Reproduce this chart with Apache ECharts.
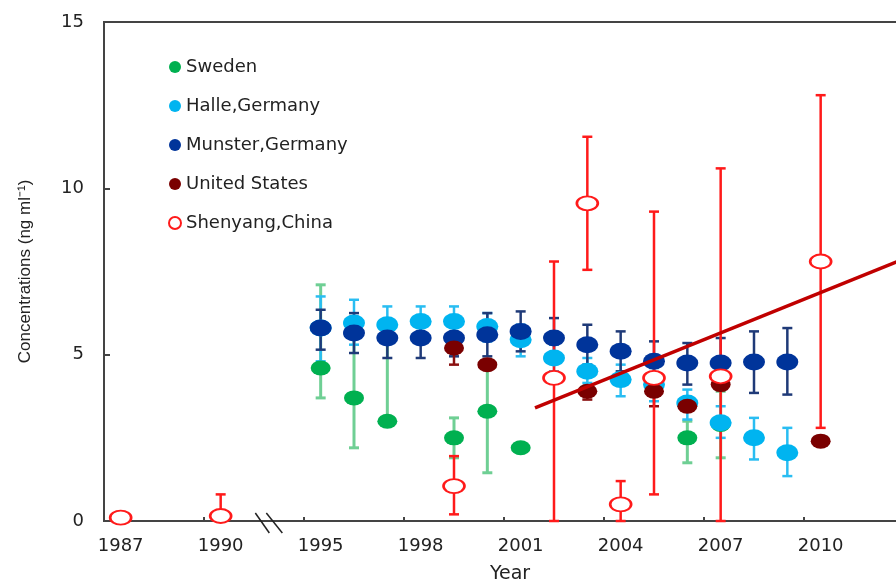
<!DOCTYPE html>
<html>
<head>
<meta charset="utf-8">
<script src="https://cdn.jsdelivr.net/npm/echarts@6/dist/echarts.min.js"></script>
<style>
html, body { margin: 0; padding: 0; background: #fff; }
#chart { width: 896px; height: 580px; }
</style>
</head>
<body>
<div id="chart"></div>
<script>
// values (ng/ml), low/high = ends of the error bars, null = no bar
const sweYears = [1995, 1996, 1997, 1999, 2000, 2001, 2006, 2007]
const sweVals  = [4.6, 3.7, 3.0, 2.5, 3.3, 2.2, 2.5, 2.9]
const sweLow   = [3.7, 2.2, null, 1.9, 1.45, null, 1.75, 1.9]
const sweHigh  = [7.1, 5.5, 5.4, 3.1, 4.7, null, 3.0, 3.9]

const halYears = [1995, 1996, 1997, 1998, 1999, 2000, 2001, 2002, 2003, 2004, 2005, 2006, 2007, 2008, 2009]
const halVals  = [5.8, 5.95, 5.9, 6.0, 6.0, 5.85, 5.45, 4.9, 4.5, 4.25, 4.1, 3.55, 2.95, 2.5, 2.05]
const halLow   = [4.8, 5.3, 5.4, 5.5, 5.5, 5.4, 4.95, 4.5, 4.15, 3.75, 3.6, 3.05, 2.5, 1.85, 1.35]
const halHigh  = [6.75, 6.65, 6.45, 6.45, 6.45, 6.25, 5.9, 5.3, 4.9, 4.7, 4.6, 3.95, 3.45, 3.1, 2.8]

const munYears = [1995, 1996, 1997, 1998, 1999, 2000, 2001, 2002, 2003, 2004, 2005, 2006, 2007, 2008, 2009]
const munVals  = [5.8, 5.65, 5.5, 5.5, 5.5, 5.6, 5.7, 5.5, 5.3, 5.1, 4.8, 4.75, 4.75, 4.78, 4.78]
const munLow   = [5.15, 5.05, 4.9, 4.9, 4.95, 4.95, 5.1, 4.9, 4.7, 4.5, 4.2, 4.1, 4.0, 3.85, 3.8]
const munHigh  = [6.35, 6.25, 6.0, 6.0, 6.0, 6.25, 6.3, 6.1, 5.9, 5.7, 5.4, 5.35, 5.5, 5.7, 5.8]

const usYears = [1999, 2000, 2003, 2005, 2006, 2007, 2010]
const usVals  = [5.2, 4.7, 3.9, 3.9, 3.45, 4.1, 2.4]
const usLow   = [4.7, null, 3.65, 3.45, null, null, null]
const usHigh  = [null, null, null, null, null, null, null]

const shyYears = [1987, 1990, 1999, 2002, 2003, 2004, 2005, 2007, 2010]
const shyVals  = [0.1, 0.15, 1.05, 4.3, 9.55, 0.5, 4.3, 4.35, 7.8]
const shyLow   = [null, null, 0.2, 0, 7.55, 0, 0.8, 0, 2.8]
const shyHigh  = [null, 0.8, 1.95, 7.8, 11.55, 1.2, 9.3, 10.6, 12.8]

// fitted line for Shenyang
const trendYears = [2001.43, 2012.5]
const trendVals  = [3.4, 7.88]

const labelYears = [1987, 1990, 1995, 1998, 2001, 2004, 2007, 2010]

// axis is broken between 1990 and 1995
function xPos(y) { return y <= 1990 ? y - 1987 : y - 1989 }

const tickPos = labelYears.slice(1).map(y => xPos(y) - 0.5)

const green = '#00b050', lightBlue = '#00b4f0', darkBlue = '#00349a', usRed = '#7a0000', red = '#ff1a1a'
const wideFont = 'DejaVu Sans, Verdana, sans-serif'

function points(name, years, vals, color, size, hollow) {
  return {
    name: name,
    type: 'scatter',
    symbol: 'circle',
    symbolSize: size,
    itemStyle: hollow
      ? { color: '#fff', borderColor: color, borderWidth: 2.2, opacity: 1 }
      : { color: color, opacity: 1 },
    data: years.map((y, i) => [xPos(y), vals[i]])
  }
}

function errorBars(years, vals, low, high, color, width) {
  return {
    type: 'custom',
    silent: true,
    encode: { x: 0, y: [1, 2] },
    data: years.map((y, i) => [
      xPos(y),
      low[i] == null ? vals[i] : low[i],
      high[i] == null ? vals[i] : high[i],
      low[i] == null ? 0 : 1,
      high[i] == null ? 0 : 1
    ]),
    renderItem(params, api) {
      const x = api.value(0)
      const p0 = api.coord([x, api.value(1)])
      const p1 = api.coord([x, api.value(2)])
      const st = { stroke: color, lineWidth: width }
      const kids = [{ type: 'line', shape: { x1: p0[0], y1: p0[1], x2: p1[0], y2: p1[1] }, style: st }]
      if (api.value(3)) kids.push({ type: 'line', shape: { x1: p0[0] - 5, y1: p0[1], x2: p0[0] + 5, y2: p0[1] }, style: st })
      if (api.value(4)) kids.push({ type: 'line', shape: { x1: p1[0] - 5, y1: p1[1], x2: p1[0] + 5, y2: p1[1] }, style: st })
      return { type: 'group', children: kids }
    }
  }
}

const chart = echarts.init(document.getElementById('chart'))

chart.setOption({
  animation: false,
  textStyle: { fontFamily: wideFont },
  grid: {
    left: 104, top: 22, width: 800, bottom: 59,
    outerBoundsMode: 'none',
    show: true, borderColor: '#444', borderWidth: 2, backgroundColor: '#fff'
  },
  legend: {
    orient: 'vertical',
    left: 163, top: 53,
    itemGap: 21,
    itemWidth: 12, itemHeight: 12,
    textStyle: { fontSize: 18, color: '#222', fontFamily: wideFont },
    data: ['Sweden', 'Halle,Germany', 'Munster,Germany', 'United States', 'Shenyang,China']
  },
  xAxis: {
    type: 'value',
    min: -0.5, max: 23.5,
    name: 'Year', nameLocation: 'middle', nameGap: 44,
    nameTextStyle: { fontSize: 19, color: '#222', fontFamily: wideFont, padding: [0, 0, 0, 12] },
    axisLine: { onZero: false, lineStyle: { color: '#444', width: 2 } },
    axisTick: { inside: true, length: 4, customValues: tickPos, lineStyle: { color: '#444', width: 2 } },
    axisLabel: {
      customValues: labelYears.map(xPos),
      formatter: v => String(labelYears[labelYears.map(xPos).indexOf(Math.round(v))]),
      fontSize: 18, color: '#222', fontFamily: wideFont, margin: 16
    },
    splitLine: { show: false }
  },
  yAxis: {
    type: 'value',
    min: 0, max: 15, interval: 5,
    name: 'Concentrations (ng ml⁻¹)', nameLocation: 'middle', nameGap: 70,
    nameTextStyle: { fontSize: 17, color: '#222', fontFamily: 'Liberation Sans, Arial, sans-serif' },
    axisLine: { show: true, onZero: false, lineStyle: { color: '#444', width: 2 } },
    axisTick: { show: true, inside: true, length: 6, lineStyle: { color: '#444', width: 2 } },
    axisLabel: { fontSize: 18, color: '#222', fontFamily: wideFont, margin: 20 },
    splitLine: { show: false }
  },
  series: [
    errorBars(sweYears, sweVals, sweLow, sweHigh, '#6fcf94', 3),
    points('Sweden', sweYears, sweVals, green, [20, 15]),
    errorBars(halYears, halVals, halLow, halHigh, '#29bdf2', 2.5),
    points('Halle,Germany', halYears, halVals, lightBlue, [22, 17]),
    errorBars(munYears, munVals, munLow, munHigh, '#1f3a78', 2.5),
    points('Munster,Germany', munYears, munVals, darkBlue, [22, 17]),
    errorBars(usYears, usVals, usLow, usHigh, '#8a1010', 2.5),
    points('United States', usYears, usVals, usRed, [20, 15]),
    errorBars(shyYears, shyVals, shyLow, shyHigh, red, 2.5),
    points('Shenyang,China', shyYears, shyVals, red, [21, 14], true),
    {
      type: 'line',
      silent: true,
      symbol: 'none',
      lineStyle: { color: '#c00000', width: 3.5 },
      data: trendYears.map((y, i) => [xPos(y), trendVals[i]])
    },
    {
      // the // mark for the axis break
      type: 'custom',
      silent: true,
      data: [[(xPos(1990) + xPos(1995)) / 2 - 0.1, 0]],
      renderItem(params, api) {
        const p = api.coord([api.value(0), api.value(1)])
        const st = { stroke: '#222', lineWidth: 1.5 }
        return {
          type: 'group',
          children: [
            { type: 'line', shape: { x1: p[0] - 12, y1: p[1] - 8, x2: p[0] + 2, y2: p[1] + 12 }, style: st },
            { type: 'line', shape: { x1: p[0] - 1, y1: p[1] - 8, x2: p[0] + 15, y2: p[1] + 12 }, style: st }
          ]
        }
      }
    }
  ]
})
</script>
</body>
</html>
